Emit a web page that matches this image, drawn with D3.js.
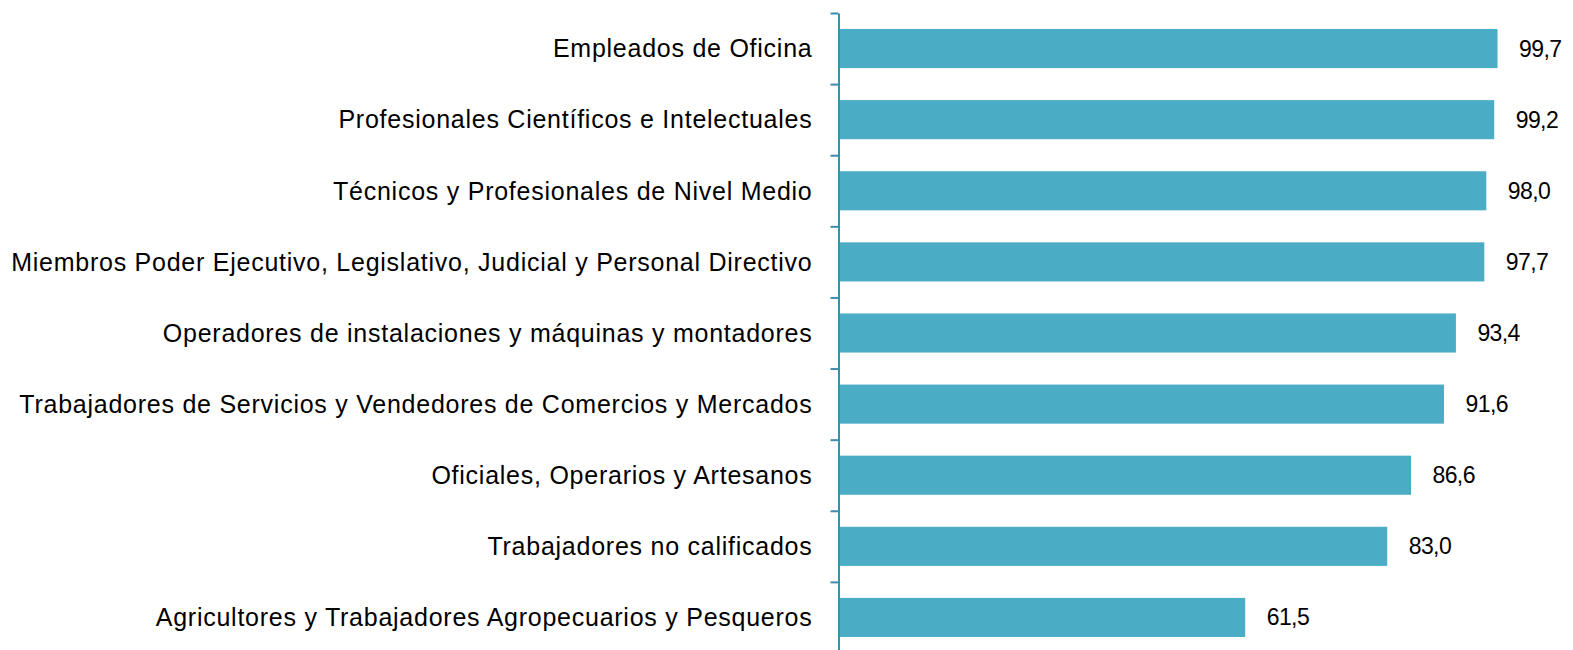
<!DOCTYPE html>
<html>
<head>
<meta charset="utf-8">
<script src="https://cdn.jsdelivr.net/npm/d3@7"></script>
<style>
	body { margin: 0; background: #fff; }
	svg { display: block; font-family: Arial, "Liberation Sans", sans-serif; }
</style>
</head>
<body>
<svg width="1573" height="650"></svg>
<script>
// @ Data
const categories = [
	"Empleados de Oficina",
	"Profesionales Científicos e Intelectuales",
	"Técnicos y Profesionales de Nivel Medio",
	"Miembros Poder Ejecutivo, Legislativo, Judicial y Personal Directivo",
	"Operadores de instalaciones y máquinas y montadores",
	"Trabajadores de Servicios y Vendedores de Comercios y Mercados",
	"Oficiales, Operarios y Artesanos",
	"Trabajadores no calificados",
	"Agricultores y Trabajadores Agropecuarios y Pesqueros",
];
const values = [99.7, 99.2, 98.0, 97.7, 93.4, 91.6, 86.6, 83.0, 61.5];

const data = categories.map((c, i) => ({ cat: c, value: values[i] }));

// @ Layout
const axisX = 838.5;
const plotTop = 13;
const plotBottom = 653;

const svg = d3.select("svg");

const x = d3.scaleLinear().domain([0, 100]).range([axisX, axisX + 660.5]);
const y = d3
	.scaleBand()
	.domain(categories)
	.range([plotTop, plotBottom])
	.paddingInner(0.45)
	.paddingOuter(0.225);

// ticks sit on the band boundaries, not the centers
const yEdge = d3
	.scaleLinear()
	.domain([0, categories.length])
	.range([plotTop, plotBottom]);

// @ Bars
svg
	.append("g")
	.selectAll("rect")
	.data(data)
	.enter()
	.append("rect")
	.attr("x", x(0) + 0.5)
	.attr("y", (d) => y(d.cat))
	.attr("width", (d) => x(d.value) - x(0))
	.attr("height", y.bandwidth())
	.attr("fill", "#4bacc6");

// @ Axis
const axis = svg
	.append("g")
	.attr("transform", `translate(${axisX},0)`)
	.call(
		d3
			.axisLeft(yEdge)
			.tickValues(d3.range(0, categories.length + 1))
			.tickFormat("")
			.tickSize(8)
			.tickSizeOuter(0)
	);
axis.select(".domain").attr("stroke", "#3a8fad").attr("stroke-width", 2);
axis.selectAll(".tick line").attr("stroke", "#3a8fad").attr("stroke-width", 2);

// @ Category labels
svg
	.append("g")
	.selectAll("text")
	.data(data)
	.enter()
	.append("text")
	.text((d) => d.cat)
	.attr("x", axisX - 26)
	.attr("y", (d) => y(d.cat) + y.bandwidth() / 2)
	.attr("dy", "0.35em")
	.attr("text-anchor", "end")
	.style("font-size", "25px")
	.style("letter-spacing", "0.75px")
	.attr("fill", "#000");

// @ Value labels
svg
	.append("g")
	.selectAll("text")
	.data(data)
	.enter()
	.append("text")
	.text((d) => d3.format(".1f")(d.value).replace(".", ","))
	.attr("x", (d) => x(d.value) + 22)
	.attr("y", (d) => y(d.cat) + y.bandwidth() / 2)
	.attr("dy", "0.35em")
	.style("font-size", "23px")
	.style("letter-spacing", "-0.6px")
	.attr("fill", "#000");
</script>
</body>
</html>
